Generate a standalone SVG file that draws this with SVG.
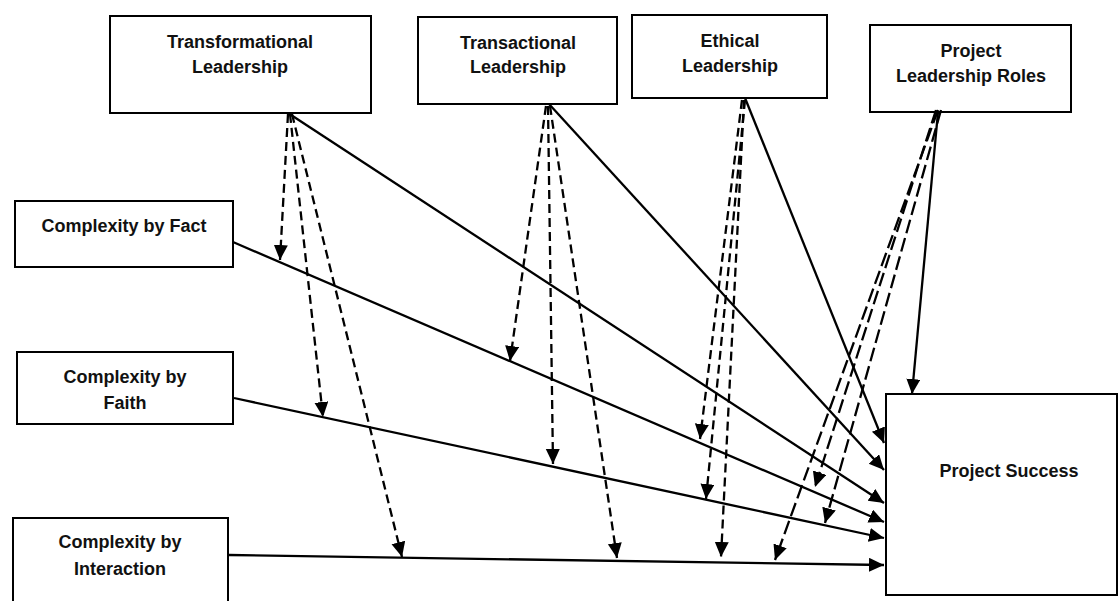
<svg xmlns="http://www.w3.org/2000/svg" width="1119" height="601" viewBox="0 0 1119 601">
<style>
.box{fill:#fff;stroke:#000;stroke-width:2}
.t{font-family:"Liberation Sans",Arial,sans-serif;font-weight:bold;font-size:18px;fill:#111;text-anchor:middle}
.s{fill:none;stroke:#000;stroke-width:2.3;marker-end:url(#ah)}
.d{fill:none;stroke:#000;stroke-width:2.3;stroke-dasharray:9 5;marker-end:url(#ah)}
.dl{fill:none;stroke:#000;stroke-width:2.3;stroke-dasharray:14 5;marker-end:url(#ah)}
</style>
<defs>
<marker id="ah" markerUnits="userSpaceOnUse" markerWidth="16" markerHeight="16" refX="15" refY="7" orient="auto">
<path d="M0,0 L15,7 L0,14 z" fill="#000"/>
</marker>
</defs>
<rect width="1119" height="601" fill="#fff"/>
<g id="transformational">
<rect class="box" x="110" y="16" width="261" height="97"/>
<text class="t" x="240" y="48">Transformational</text>
<text class="t" x="240" y="73">Leadership</text>
</g>
<g id="transactional">
<rect class="box" x="418" y="17" width="199" height="87"/>
<text class="t" x="518" y="49">Transactional</text>
<text class="t" x="518" y="73">Leadership</text>
</g>
<g id="ethical">
<rect class="box" x="632" y="15" width="195" height="83"/>
<text class="t" x="730" y="47">Ethical</text>
<text class="t" x="730" y="72">Leadership</text>
</g>
<g id="plr">
<rect class="box" x="870" y="25" width="201" height="87"/>
<text class="t" x="971" y="57">Project</text>
<text class="t" x="971" y="82">Leadership Roles</text>
</g>
<g id="fact">
<rect class="box" x="15" y="201" width="218" height="66"/>
<text class="t" x="124" y="232">Complexity by Fact</text>
</g>
<g id="faith">
<rect class="box" x="17" y="352" width="216" height="72"/>
<text class="t" x="125" y="383">Complexity by</text>
<text class="t" x="125" y="409">Faith</text>
</g>
<g id="interaction">
<rect class="box" x="13" y="518" width="215" height="100"/>
<text class="t" x="120" y="548">Complexity by</text>
<text class="t" x="120" y="575">Interaction</text>
</g>
<g id="success">
<rect class="box" x="886" y="394" width="231" height="201"/>
<text class="t" x="1009" y="477">Project Success</text>
</g>
<g id="connectors">
<line class="s" x1="288" y1="113" x2="884" y2="503"/>
<line class="s" x1="549" y1="104" x2="884" y2="470"/>
<line class="s" x1="745" y1="98" x2="884" y2="443"/>
<line class="s" x1="938" y1="112" x2="912" y2="394"/>
<line class="s" x1="233" y1="242" x2="884" y2="522"/>
<line class="s" x1="234" y1="398" x2="884" y2="538"/>
<line class="s" x1="229" y1="555" x2="884" y2="565"/>
<line class="d" x1="288" y1="114" x2="280" y2="260"/>
<line class="d" x1="290" y1="114" x2="323" y2="417"/>
<line class="d" x1="292" y1="114" x2="402" y2="557"/>
<line class="d" x1="546" y1="106" x2="510" y2="361"/>
<line class="d" x1="548" y1="106" x2="553" y2="464"/>
<line class="d" x1="550" y1="106" x2="617" y2="558"/>
<line class="d" x1="742" y1="100" x2="700" y2="439"/>
<line class="d" x1="744" y1="100" x2="721" y2="557"/>
<line class="d" x1="745" y1="100" x2="706" y2="499"/>
<line class="dl" x1="936" y1="110" x2="815" y2="487"/>
<line class="dl" x1="938" y1="110" x2="775" y2="560"/>
<line class="dl" x1="941" y1="110" x2="825" y2="523"/>
</g>
</svg>
